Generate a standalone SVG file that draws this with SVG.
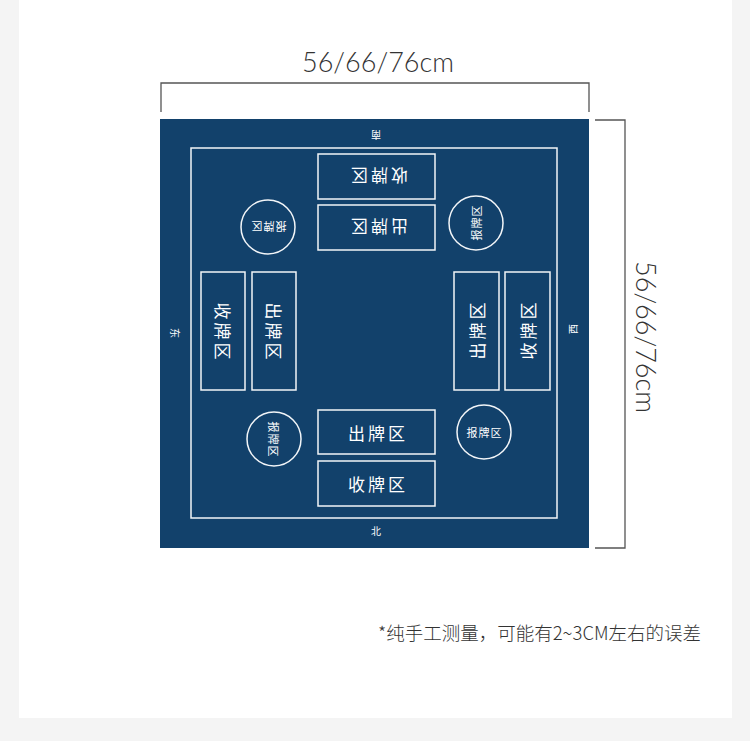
<svg xmlns="http://www.w3.org/2000/svg" width="750" height="741" viewBox="0 0 750 741">
<style>
.zone{fill:none;stroke:#f2f5f8;stroke-width:1.5}
.zt{font-family:"Noto Sans CJK SC",sans-serif;font-size:17px;fill:#ffffff;text-anchor:middle;dominant-baseline:central;letter-spacing:3px}
.ct{font-family:"Noto Sans CJK SC",sans-serif;font-size:11px;fill:#ffffff;text-anchor:middle;dominant-baseline:central;letter-spacing:1px}
.dt{font-family:"Noto Sans CJK SC",sans-serif;font-size:10px;fill:#ffffff;text-anchor:middle;dominant-baseline:central}
.dim{font-family:"Lato","Noto Sans",sans-serif;font-weight:300;font-size:27px;fill:#333333;text-anchor:middle}
.br{fill:none;stroke:#555555;stroke-width:1.3}
</style>
<rect x="0" y="0" width="750" height="741" fill="#f4f4f4"/>
<rect x="19" y="0" width="713" height="718" fill="#ffffff"/>
<g id="dimensions">
<path class="br" d="M161 112 V83 H589 V112"/>
<text class="dim" x="378" y="72">56/66/76cm</text>
<path class="br" d="M595 120 H625 V548 H595"/>
<text class="dim" transform="translate(636 337) rotate(90)" x="0" y="0">56/66/76cm</text>
</g>
<g id="table">
<rect x="160" y="119" width="429" height="429" fill="#12416b"/>
<rect class="zone" x="191" y="148" width="366" height="370"/>
</g>
<g id="directions">
<text class="dt" transform="translate(376 135) rotate(180)">南</text>
<text class="dt" transform="translate(376 530)">北</text>
<text class="dt" transform="translate(175 333) rotate(90)">东</text>
<text class="dt" transform="translate(572 329) rotate(-90)">西</text>
</g>
<g id="south-zones">
<rect class="zone" x="318" y="154" width="117" height="45"/>
<text class="zt" transform="translate(378 176.5) rotate(180)">收牌区</text>
<rect class="zone" x="318" y="205" width="117" height="45"/>
<text class="zt" transform="translate(378 227.5) rotate(180)">出牌区</text>
<circle class="zone" cx="268" cy="227" r="27"/>
<text class="ct" transform="translate(268.5 227) rotate(180)">报牌区</text>
</g>
<g id="north-zones">
<rect class="zone" x="318" y="410" width="117" height="44"/>
<text class="zt" x="378" y="432">出牌区</text>
<rect class="zone" x="318" y="461" width="117" height="45"/>
<text class="zt" x="378" y="483.5">收牌区</text>
<circle class="zone" cx="484" cy="432" r="27"/>
<text class="ct" x="484.5" y="432">报牌区</text>
</g>
<g id="east-zones">
<rect class="zone" x="201" y="272" width="44" height="118"/>
<text class="zt" transform="translate(223 332.5) rotate(90)">收牌区</text>
<rect class="zone" x="252" y="272" width="44" height="118"/>
<text class="zt" transform="translate(274 332.5) rotate(90)">出牌区</text>
<circle class="zone" cx="274" cy="439" r="27"/>
<text class="ct" transform="translate(274 439.5) rotate(90)">报牌区</text>
</g>
<g id="west-zones">
<rect class="zone" x="454" y="272" width="45" height="118"/>
<text class="zt" transform="translate(476.5 329.5) rotate(-90)">出牌区</text>
<rect class="zone" x="505" y="272" width="45" height="118"/>
<text class="zt" transform="translate(527.5 329.5) rotate(-90)">收牌区</text>
<circle class="zone" cx="476" cy="223" r="27"/>
<text class="ct" transform="translate(476 222.5) rotate(-90)">报牌区</text>
</g>
<g id="note">
<text x="378" y="640" font-family="'Noto Sans CJK SC',sans-serif" font-size="18.5" font-weight="300" fill="#333333">*纯手工测量，可能有2~3CM左右的误差</text>
</g>
</svg>
